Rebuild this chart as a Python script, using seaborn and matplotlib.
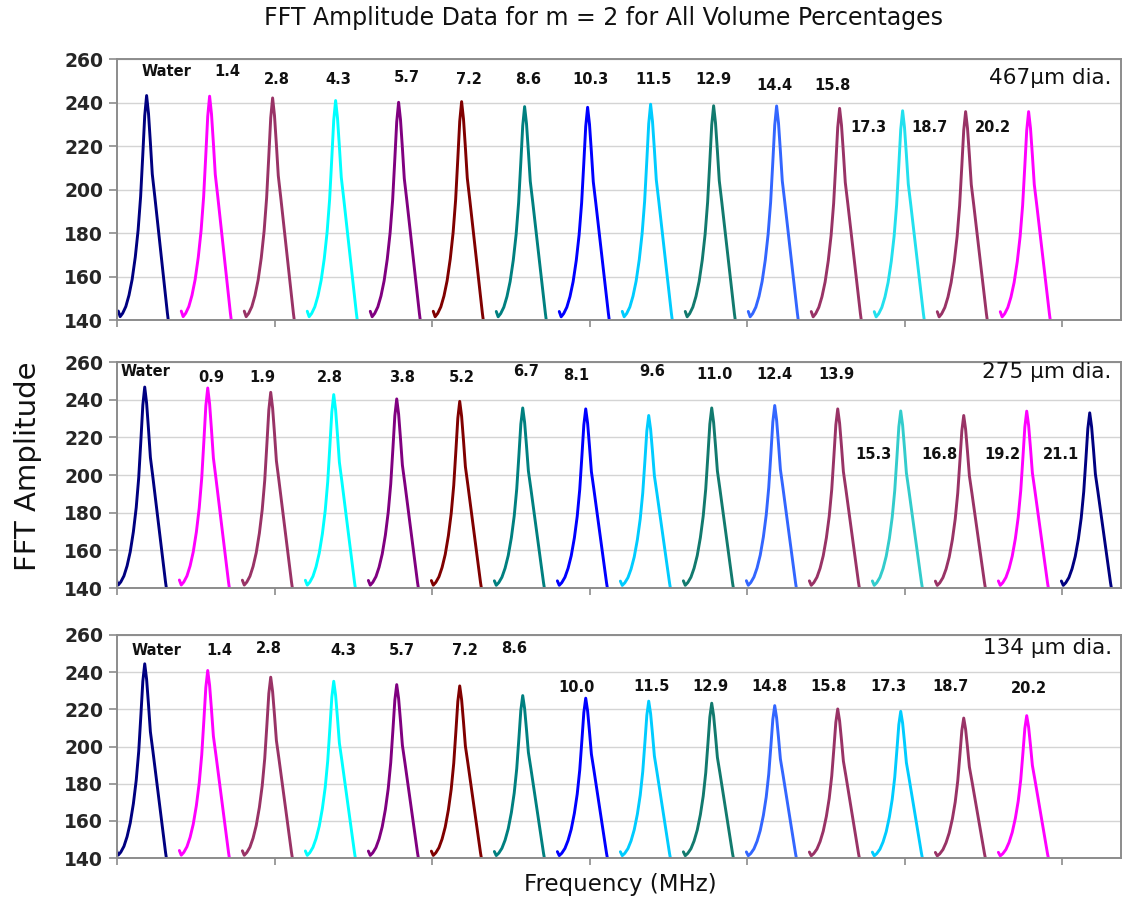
import numpy as np
import pandas as pd
import matplotlib
matplotlib.use("Agg")
import matplotlib.pyplot as plt
import seaborn as sns

# ---------------- data ----------------
# measured peak profile (offset from peak centre in peak-spacing units,
# fraction of the height above the 140 floor)
profile_offset = [-0.45, -0.42, -0.38, -0.33, -0.28, -0.23, -0.18, -0.135, -0.095,
                  -0.06, -0.03, 0.0, 0.03, 0.06, 0.09, 0.13, 0.18, 0.23,
                  0.28, 0.33, 0.38]
profile_frac = [0.04, 0.015, 0.03, 0.06, 0.11, 0.18, 0.28, 0.40, 0.55,
                0.74, 0.91, 1.0, 0.92, 0.79, 0.65, 0.55, 0.42, 0.29,
                0.16, 0.03, -0.08]

NAVY, MAG, PLUM, CYAN, PURP, DRED = "#000080", "#FF00FF", "#993366", "#00FFFF", "#800080", "#800000"
TEAL, BLUE, SKY, TEAL2, ROYAL, CYAN2 = "#008080", "#0000FF", "#00CCFF", "#127A6E", "#3366FF", "#33CCCC"

p1_labels = ["Water", "1.4", "2.8", "4.3", "5.7", "7.2", "8.6", "10.3", "11.5",
             "12.9", "14.4", "15.8", "17.3", "18.7", "20.2"]
p1_peaks = [243.2, 242.9, 242.1, 240.9, 240.1, 240.4, 238.1, 237.8, 239.2,
            238.5, 238.4, 237.3, 236.2, 235.8, 235.8]
p1_colors = [NAVY, MAG, PLUM, CYAN, PURP, DRED, TEAL, BLUE, SKY, TEAL2, ROYAL,
             PLUM, "#22E0EE", PLUM, MAG]
p1_label_x = [0.78, 1.75, 2.54, 3.51, 4.60, 5.59, 6.52, 7.51, 8.51, 9.46, 10.43,
              11.35, 11.92, 12.89, 13.90]
p1_label_y = [254.1, 254.4, 250.5, 250.5, 251.3, 250.4, 250.4, 250.4, 250.6,
              250.6, 247.6, 247.6, 228.7, 228.7, 228.7]

p2_labels = ["Water", "0.9", "1.9", "2.8", "3.8", "5.2", "6.7", "8.1", "9.6",
             "11.0", "12.4", "13.9", "15.3", "16.8", "19.2", "21.1"]
p2_peaks = [246.7, 246.2, 243.9, 242.7, 240.4, 239.1, 235.6, 235.1, 231.6,
            235.6, 236.9, 235.1, 234.0, 231.6, 233.9, 233.0]
p2_colors = [NAVY, MAG, PLUM, CYAN, PURP, DRED, TEAL, BLUE, SKY, TEAL2, ROYAL,
             PLUM, CYAN2, PLUM, MAG, NAVY]
p2_label_x = [0.46, 1.50, 2.30, 3.38, 4.53, 5.47, 6.49, 7.29, 8.49, 9.48, 10.44,
              11.42, 12.00, 13.05, 14.06, 14.98]
p2_label_y = [255.0, 252.0, 252.0, 252.0, 252.0, 252.0, 254.7, 252.9, 254.7,
              253.4, 253.4, 253.4, 211.1, 211.1, 211.1, 211.1]

p3_labels = ["Water", "1.4", "2.8", "4.3", "5.7", "7.2", "8.6", "10.0", "11.5",
             "12.9", "14.8", "15.8", "17.3", "18.7", "20.2"]
p3_peaks = [244.5, 240.9, 237.3, 235.1, 233.3, 232.6, 227.4, 226.0, 224.4,
            223.3, 222.0, 220.2, 218.9, 215.3, 216.6]
p3_colors = [NAVY, MAG, PLUM, CYAN, PURP, DRED, TEAL, BLUE, SKY, TEAL2, ROYAL,
             PLUM, SKY, PLUM, MAG]
p3_label_x = [0.63, 1.62, 2.41, 3.60, 4.52, 5.53, 6.31, 7.30, 8.49, 9.42, 10.35,
              11.30, 12.24, 13.23, 14.48]
p3_label_y = [251.4, 251.4, 252.6, 251.4, 251.4, 251.4, 252.6, 231.9, 232.3,
              232.3, 232.3, 232.3, 232.3, 232.3, 231.0]

panel_titles = ["467\u00b5m dia.", "275 \u00b5m dia.", "134 \u00b5m dia."]
panel_title_y = [251.1, 254.7, 252.8]
first_peak = [0.47, 0.44, 0.44]

title = "FFT Amplitude Data for m = 2 for All Volume Percentages"
xlabel = "Frequency (MHz)"
ylabel = "FFT Amplitude"
yticks = [140, 160, 180, 200, 220, 240, 260]

# ---------------- figure ----------------
sns.set_theme(style="white")
plt.rcParams["font.family"] = ["DejaVu Sans"]

W, H = 1131, 910
fig = plt.figure(figsize=(W / 100, H / 100), dpi=100)

boxes = [(59, 320), (362, 588), (635, 858)]
left_px, right_px = 117, 1121
XMAX = (right_px - left_px) / 63.0

panels = [
    (p1_labels, p1_peaks, p1_colors, p1_label_x, p1_label_y),
    (p2_labels, p2_peaks, p2_colors, p2_label_x, p2_label_y),
    (p3_labels, p3_peaks, p3_colors, p3_label_x, p3_label_y),
]

for i, ((top, bot), (labels, peaks, colors, lx, ly)) in enumerate(zip(boxes, panels)):
    ax = fig.add_axes([left_px / W, 1 - bot / H, (right_px - left_px) / W, (bot - top) / H])
    rows = []
    for k, pk in enumerate(peaks):
        c = first_peak[i] + k
        for o, f in zip(profile_offset, profile_frac):
            rows.append({"x": c + o, "y": 140 + f * (pk - 140), "peak": f"s{k:02d}"})
    df = pd.DataFrame(rows)
    pal = {f"s{k:02d}": colors[k] for k in range(len(peaks))}
    sns.lineplot(data=df, x="x", y="y", hue="peak", palette=pal, sort=False,
                 estimator=None, legend=False, linewidth=2.1, ax=ax)
    ax.set_xlim(0, XMAX)
    ax.set_ylim(140, 260)
    ax.set_yticks(yticks)
    ax.set_yticklabels([str(t) for t in yticks], fontsize=13.5, fontweight="bold")
    ax.set_xticks(np.arange(0, XMAX, 2.5))
    ax.set_xticklabels([])
    ax.set_xlabel("")
    ax.set_ylabel("")
    ax.grid(axis="y", color="#D4D4D4", linewidth=1.0)
    ax.set_axisbelow(True)
    for s in ax.spines.values():
        s.set_color("#8C8C8C")
        s.set_linewidth(1.4)
    ax.tick_params(axis="y", length=6, width=1.2, color="#8C8C8C", pad=4, left=True)
    ax.tick_params(axis="x", length=5, width=1.2, color="#8C8C8C", bottom=True, direction="out")
    for t, x, y in zip(labels, lx, ly):
        ax.text(x, y, t, ha="center", va="center", fontsize=10.5, fontweight="bold", color="#111111")
    ax.text(15.79, panel_title_y[i], panel_titles[i], ha="right", va="center",
            fontsize=15.5, color="#111111")

fig.text(603 / W, 1 - 18 / H, title, ha="center", va="center", fontsize=17, color="#111111")
fig.text(620 / W, 1 - 885 / H, xlabel, ha="center", va="center", fontsize=16.5, color="#111111")
fig.text(28 / W, 1 - 466 / H, ylabel, ha="center", va="center", rotation=90,
         fontsize=21, color="#111111")

fig.savefig("out.png", dpi=100)
